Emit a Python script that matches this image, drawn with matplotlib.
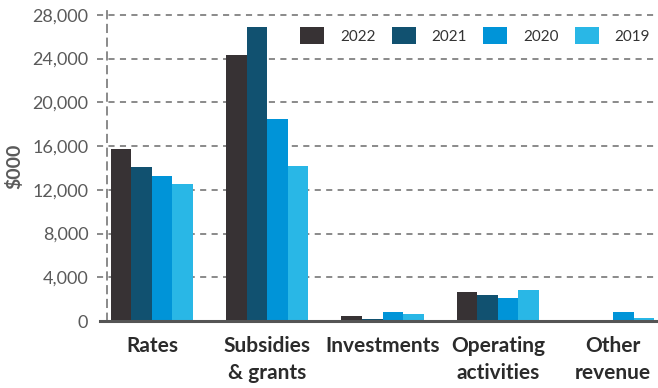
import matplotlib
matplotlib.use("Agg")
import matplotlib.pyplot as plt
import numpy as np

plt.rcParams["font.family"] = ["Lato", "DejaVu Sans"]

categories = ["Rates", "Subsidies\n& grants", "Investments", "Operating\nactivities", "Other\nrevenue"]
years = ["2022", "2021", "2020", "2019"]
values_2022 = [15700, 24350, 450, 2650, 0]
values_2021 = [14100, 26900, 200, 2380, 0]
values_2020 = [13300, 18500, 820, 2100, 820]
values_2019 = [12500, 14200, 640, 2840, 280]
series = [values_2022, values_2021, values_2020, values_2019]
colors = ["#373234", "#115170", "#0094D8", "#29B7E6"]
yticks = [0, 4000, 8000, 12000, 16000, 20000, 24000, 28000]

W, H = 658, 388
fig = plt.figure(figsize=(W / 100, H / 100), dpi=100)
ax = fig.add_axes([107 / W, 1 - 321 / H, 1 - 107 / W, (321 - 6) / H])

x = np.arange(len(categories))
bw = 0.178
for i, (vals, col, yr) in enumerate(zip(series, colors, years)):
    ax.bar(x + (i - 1.5) * bw, vals, width=bw, color=col, label=yr, zorder=3)

ax.set_xlim(-0.39, 4.39)
ax.set_ylim(0, 28800)

grid_col = "#6b6b6b"
for t in yticks[1:]:
    ax.axhline(t, xmin=-0.018, xmax=1, color=grid_col, lw=1.1,
               ls=(0, (4, 3.5)), clip_on=False, zorder=1)
ax.axhline(0, xmin=-0.013, xmax=1, color="#555555", lw=2.2, clip_on=False, zorder=4)

for s in ["top", "right", "bottom"]:
    ax.spines[s].set_visible(False)
ax.spines["left"].set_linestyle((0, (5, 4)))
ax.spines["left"].set_color(grid_col)
ax.spines["left"].set_linewidth(1.1)

ax.set_yticks(yticks)
ax.set_yticklabels([f"{v:,}" for v in yticks])
ax.tick_params(axis="y", length=0, pad=13.5, labelsize=13, labelcolor="#5a5a5a")
ax.set_xticks(x)
ax.set_xticklabels(categories, fontsize=15, fontweight="bold", color="#2b2b2b",
                   linespacing=1.45)
ax.tick_params(axis="x", length=0, pad=11)

ax.set_ylabel("$000", fontsize=14, fontweight="bold", color="#5a5a5a")
ax.yaxis.set_label_coords(-0.152, 0.49)

leg = fig.legend(ncol=4, frameon=False, loc="center left",
                 bbox_to_anchor=(300 / W, 1 - 35.5 / H), fontsize=11,
                 handlelength=1.57, handleheight=1.37, handletextpad=1.05,
                 columnspacing=1.05, borderaxespad=0, borderpad=0)
for t in leg.get_texts():
    t.set_color("#333333")

fig.savefig("out.png", dpi=100)
